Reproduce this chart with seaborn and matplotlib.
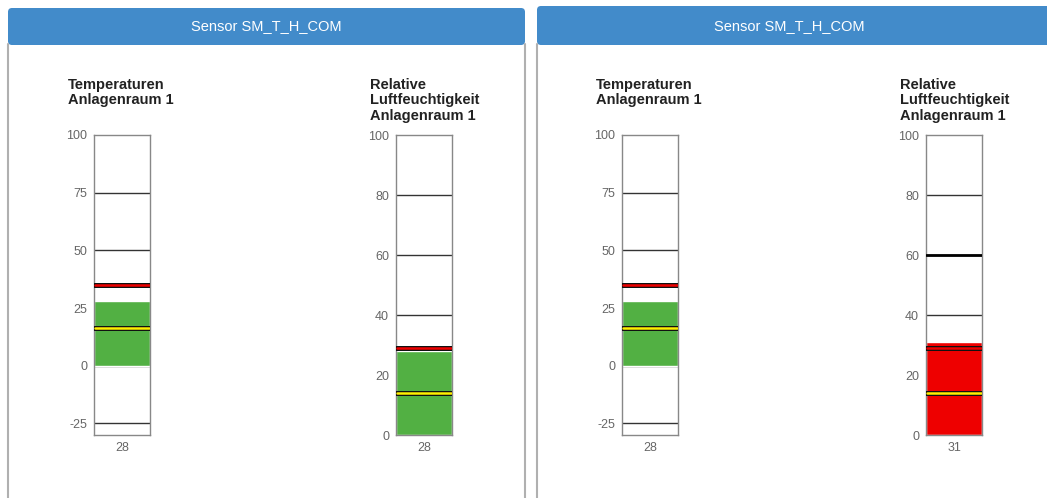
import matplotlib
matplotlib.use("Agg")
import matplotlib.pyplot as plt
import seaborn as sns
from matplotlib.patches import FancyBboxPatch

sns.set_style("white")
plt.rcParams['font.family'] = ['Liberation Sans', 'DejaVu Sans']
plt.rcParams['axes.unicode_minus'] = False

# data
panel_titles = ["Sensor SM_T_H_COM", "Sensor SM_T_H_COM"]
gauge_titles = ["Temperaturen\nAnlagenraum 1",
                "Relative\nLuftfeuchtigkeit\nAnlagenraum 1",
                "Temperaturen\nAnlagenraum 1",
                "Relative\nLuftfeuchtigkeit\nAnlagenraum 1"]
values = [28, 28, 28, 31]
bar_colors = ["#52b043", "#52b043", "#52b043", "#ee0000"]
upper_marks = [35, 29, 35, 29]
upper_colors = ["#ee0000", "#ee0000", "#ee0000", "#ee0000"]
lower_marks = [16.5, 14, 16.5, 14]
y_min = [-30, 0, -30, 0]
y_max = [100, 100, 100, 100]
y_ticks = [[-25, 0, 25, 50, 75, 100],
           [0, 20, 40, 60, 80, 100],
           [-25, 0, 25, 50, 75, 100],
           [0, 20, 40, 60, 80, 100]]
extra_marks = [None, None, None, 60]

W, H = 1047, 498
fig = plt.figure(figsize=(W / 100, H / 100), dpi=100)

# background / panels in pixel coords
bg = fig.add_axes([0, 0, 1, 1])
bg.set_xlim(0, W)
bg.set_ylim(H, 0)
bg.axis("off")

panels = [(8, 525, 8), (537, 1060, 6)]
for (x0, x1, y0), title in zip(panels, panel_titles):
    bg.plot([x0, x0], [44, H], color="#b0b0b0", lw=1.5)
    bg.plot([x1, x1], [44, H], color="#b0b0b0", lw=1.5)
    hdr = FancyBboxPatch((x0, y0), x1 - x0, 45 - y0,
                         boxstyle="round,pad=0,rounding_size=4",
                         facecolor="#428bca", edgecolor="none")
    bg.add_patch(hdr)
    bg.text((x0 + min(x1, 1042)) / 2, 26, title, color="white",
            fontsize=10.5, ha="center", va="center")

gauge_x = [94, 396, 622, 926]
title_x = [68, 370, 596, 900]
top_y, bot_y = 135, 435

for i in range(4):
    x0 = gauge_x[i]
    ax = fig.add_axes([x0 / W, (H - bot_y) / H, 56 / W, (bot_y - top_y) / H])
    sns.barplot(x=[str(values[i])], y=[values[i]], color=bar_colors[i],
                width=1, saturation=1, ax=ax, zorder=2)
    ax.set_xlim(-0.5, 0.5)
    ax.set_ylim(y_min[i], y_max[i])
    ax.set_yticks(y_ticks[i])
    for t in y_ticks[i]:
        if t != y_max[i]:
            ax.axhline(t, color="#333333", lw=1, zorder=1)
    if extra_marks[i] is not None:
        ax.axhline(extra_marks[i], color="black", lw=2, zorder=3)
    # threshold markers
    ax.axhline(upper_marks[i], xmin=0.0, xmax=1.0, color="#111111", lw=3.6, zorder=4)
    ax.axhline(upper_marks[i], xmin=0.02, xmax=0.98, color=upper_colors[i],
               lw=1.8, zorder=5)
    ax.axhline(lower_marks[i], xmin=0.0, xmax=1.0, color="#111111", lw=3.6, zorder=4)
    ax.axhline(lower_marks[i], xmin=0.02, xmax=0.98, color="#ffee00", lw=1.8, zorder=5)
    for s in ax.spines.values():
        s.set_color("#888888")
        s.set_linewidth(1)
    ax.tick_params(axis="both", length=0, labelsize=9, labelcolor="#666666", pad=5)
    ax.set_xlabel("")
    ax.set_ylabel("")
    bg.text(title_x[i], 78, gauge_titles[i], fontsize=10.5, fontweight="bold",
            color="#222222", ha="left", va="top", linespacing=1.12)

fig.savefig("out.png", dpi=100)
